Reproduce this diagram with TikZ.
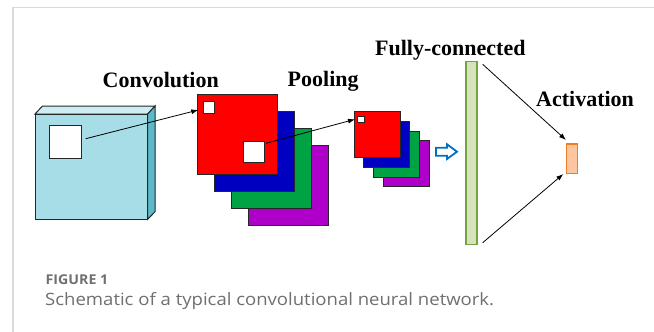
\documentclass[tikz,border=0pt]{standalone}
\usepackage{fontspec}
\setmainfont{Liberation Serif}
\newfontfamily\capfont{Open Sans}
\usetikzlibrary{arrows.meta}
\definecolor{framegray}{HTML}{D9D9D9}
\definecolor{edge}{HTML}{262626}
\definecolor{cyanfront}{HTML}{A6DDE6}
\definecolor{cyantop}{HTML}{CDEEF2}
\definecolor{cyanside}{HTML}{5DB9C9}
\definecolor{fmred}{HTML}{FF0000}
\definecolor{fmblue}{HTML}{0000C0}
\definecolor{fmgreen}{HTML}{00A344}
\definecolor{fmpurple}{HTML}{AE00C8}
\definecolor{fcfill}{HTML}{D6E4BC}
\definecolor{fcedge}{HTML}{77A045}
\definecolor{actfill}{HTML}{FCC6A0}
\definecolor{actedge}{HTML}{F57B20}
\definecolor{hollowblue}{HTML}{0070C0}
\definecolor{capgray}{HTML}{707070}
\tikzset{
  sq/.style={draw=edge, line width=1pt, inner sep=0pt, outer sep=0pt},
  conn/.style={draw=black, line width=0.8pt, -{Latex[length=7pt,width=5pt]}},
  lbl/.style={font=\fontsize{22}{24}\selectfont\bfseries, inner sep=0pt, anchor=base west},
}
\begin{document}
\begin{tikzpicture}[x=1pt,y=-1pt]
\useasboundingbox (0,0) rectangle (654,332);
\fill[white] (0,0) rectangle (654,332);
\draw[framegray, line width=1.3pt] (13,332) -- (13,7.5) -- (654,7.5);

% input volume
\filldraw[fill=cyantop, draw=edge, line width=1pt] (35,114) -- (42.5,106) -- (155,106) -- (147.7,114) -- cycle;
\filldraw[fill=cyanside, draw=edge, line width=1pt] (147.7,114) -- (155,106) -- (155,211.7) -- (147.7,219.3) -- cycle;
\node[sq, fill=cyanfront, minimum width=112.7pt, minimum height=105.3pt] (inp) at (91.35,166.65) {};
\node[sq, fill=white, minimum width=32.4pt, minimum height=32.7pt] (win) at (65.5,141.7) {};

% convolution maps
\node[sq, fill=fmpurple, minimum size=80pt] (c4) at (288,185.3) {};
\node[sq, fill=fmgreen, minimum size=80pt] (c3) at (271,168.3) {};
\node[sq, fill=fmblue, minimum size=80pt] (c2) at (254,151.2) {};
\node[sq, fill=fmred, minimum size=80pt] (c1) at (237,134) {};
\node[sq, fill=white, minimum width=11.4pt, minimum height=11.6pt] (cs) at (209,107.5) {};
\node[sq, fill=white, minimum width=21pt, minimum height=20.7pt] (cb) at (254.2,151.7) {};

% pooling maps
\node[sq, fill=fmpurple, minimum size=46pt] (p4) at (406.2,163.9) {};
\node[sq, fill=fmgreen, minimum size=46pt] (p3) at (396.5,154.2) {};
\node[sq, fill=fmblue, minimum size=46pt] (p2) at (386.8,144.5) {};
\node[sq, fill=fmred, minimum size=46pt] (p1) at (377,134.7) {};
\node[sq, fill=white, minimum width=6.6pt, minimum height=6.4pt, line width=0.7pt] (ps) at (361,119.5) {};

% hollow arrow
\draw[hollowblue, line width=1.8pt, fill=white, line join=miter]
  (436,147.7) -- (447,147.7) -- (447,144.3) -- (457,151.7) -- (447,159) -- (447,155.7) -- (436,155.7) -- cycle;

% fully connected and activation
\node[draw=fcedge, fill=fcfill, line width=1.3pt, inner sep=0pt, minimum width=11pt, minimum height=182.6pt] (fc) at (471.5,153) {};
\node[draw=actedge, fill=actfill, line width=1.3pt, inner sep=0pt, minimum width=11.4pt, minimum height=29.3pt] (act) at (572,158.7) {};

% connector coordinates
\coordinate (a1s) at (85.7,138.7);
\coordinate (a1e) at (198.3,110);
\coordinate (a2s) at (266,143.3);
\coordinate (a2e) at (355,119.3);
\coordinate (a3s) at (482.7,64.3);
\coordinate (a3e) at (566,140);
\coordinate (a4s) at (482.7,242.7);
\coordinate (a4e) at (563.3,174);
\draw[conn] (a1s) -- (a1e);
\draw[conn] (a2s) -- (a2e);
\draw[conn] (a3s) -- (a3e);
\draw[conn] (a4s) -- (a4e);

% labels
\node[lbl] (lconv) at (102.5,87.3) {Convolution};
\node[lbl] (lpool) at (287.5,86) {Pooling};
\node[lbl] (lfc) at (375,55) {Fully-connected};
\node[lbl] (lact) at (536,106) {Activation};

% caption
\node[font=\capfont\fontsize{13.5}{15}\selectfont\bfseries, text=capgray, anchor=base west, inner sep=0pt] (fig) at (45.5,284) {\scalebox{1.05}[1]{FIGURE 1}};
\node[font=\capfont\fontsize{17}{19}\selectfont, text=capgray, anchor=base west, inner sep=0pt] (cap) at (45,305.3) {\scalebox{1.09}[1]{Schematic of a typical convolutional neural network.}};
\end{tikzpicture}
\end{document}
